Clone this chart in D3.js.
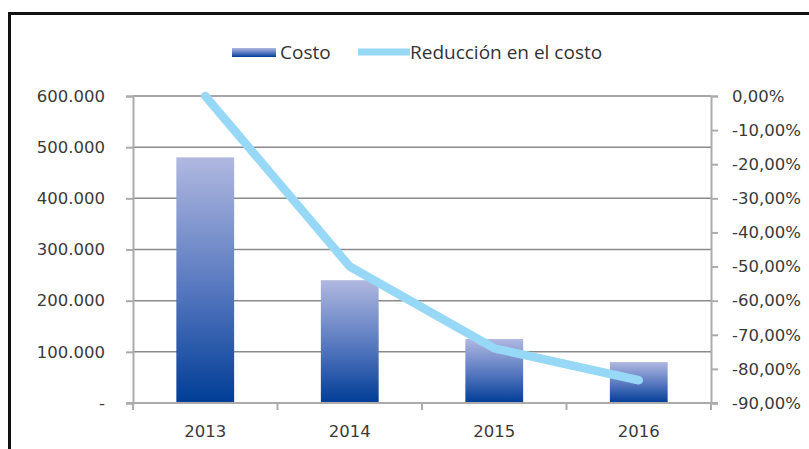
<!DOCTYPE html>
<html lang="es">
<head>
    <meta charset="UTF-8">
    <title>Costo y reducción en el costo</title>
    <script src="https://d3js.org/d3.v7.min.js"></script>
    <style>
        body { margin: 0; background: #fff; }
        .tick text { font-family: "DejaVu Sans", Verdana, sans-serif; font-size: 16.5px; fill: #3a3a3a; }
        .legend text { font-family: "Open Sans", sans-serif; font-size: 19px; fill: #333; }
    </style>
</head>
<body>

<div id="chart"></div>

<script>
    // Data
    const years = ["2013", "2014", "2015", "2016"];
    const costo = [480000, 240000, 125000, 80000];
    const reduccion = [0, -0.50, -0.7396, -0.8333];
    const leftTicks = [0, 100000, 200000, 300000, 400000, 500000, 600000];
    const rightTicks = [0, -0.1, -0.2, -0.3, -0.4, -0.5, -0.6, -0.7, -0.8, -0.9];

    const width = 809, height = 449;
    const plot = { left: 133, right: 711, top: 96, bottom: 403 };

    const svg = d3.select("#chart").append("svg")
        .attr("width", width)
        .attr("height", height);

    // outer frame (cut off at right and bottom)
    svg.append("rect")
        .attr("x", 9.5).attr("y", 13.5)
        .attr("width", 840).attr("height", 480)
        .attr("fill", "#fff")
        .attr("stroke", "#111")
        .attr("stroke-width", 3);

    const grad = svg.append("defs").append("linearGradient")
        .attr("id", "barGrad")
        .attr("x1", 0).attr("y1", 0).attr("x2", 0).attr("y2", 1);
    grad.append("stop").attr("offset", "0%").attr("stop-color", "#b0b8e0");
    grad.append("stop").attr("offset", "55%").attr("stop-color", "#5476be");
    grad.append("stop").attr("offset", "100%").attr("stop-color", "#003d96");

    const x = d3.scaleBand()
        .domain(years)
        .range([plot.left, plot.right])
        .paddingInner(0.6)
        .paddingOuter(0.3);

    const yLeft = d3.scaleLinear()
        .domain([0, 600000])
        .range([plot.bottom, plot.top]);

    const yRight = d3.scaleLinear()
        .domain([-0.9, 0])
        .range([plot.bottom, plot.top]);

    // gridlines
    svg.append("g")
        .selectAll("line")
        .data(leftTicks.filter(d => d > 0))
        .join("line")
        .attr("x1", plot.left).attr("x2", plot.right)
        .attr("y1", d => yLeft(d)).attr("y2", d => yLeft(d))
        .attr("stroke", "#8a8a8a")
        .attr("stroke-width", 1.5);

    // bars
    svg.append("g")
        .selectAll("rect")
        .data(years)
        .join("rect")
        .attr("x", d => x(d))
        .attr("width", x.bandwidth())
        .attr("y", (d, i) => yLeft(costo[i]))
        .attr("height", (d, i) => yLeft(0) - yLeft(costo[i]))
        .attr("fill", "url(#barGrad)");

    const fmtLeft = d => d === 0 ? "-" : d3.format(",")(d).replace(/,/g, ".");
    const fmtRight = d => (d * 100).toFixed(2).replace(".", ",").replace("-0,00", "0,00") + "%";

    function styleAxis(g) {
        g.select(".domain").attr("stroke", "#ababab").attr("stroke-width", 2);
        g.selectAll(".tick line").attr("stroke", "#ababab").attr("stroke-width", 2);
    }

    svg.append("g")
        .attr("transform", `translate(${plot.left},0)`)
        .call(d3.axisLeft(yLeft).tickValues(leftTicks).tickFormat(fmtLeft)
            .tickSize(7).tickSizeOuter(7).tickPadding(21))
        .call(styleAxis);

    svg.append("g")
        .attr("transform", `translate(${plot.right},0)`)
        .call(d3.axisRight(yRight).tickValues(rightTicks).tickFormat(fmtRight)
            .tickSize(7).tickSizeOuter(7).tickPadding(14))
        .call(styleAxis);

    // x axis: ticks at category boundaries
    const xAxis = svg.append("g")
        .attr("transform", `translate(0,${plot.bottom})`);
    xAxis.append("line")
        .attr("x1", plot.left - 7).attr("x2", plot.right + 7)
        .attr("stroke", "#ababab").attr("stroke-width", 2);
    const bounds = years.map(d => x(d) - x.step() * x.paddingOuter()).concat([plot.right]);
    xAxis.selectAll(".bt")
        .data(bounds)
        .join("line")
        .attr("class", "bt")
        .attr("x1", d => d).attr("x2", d => d)
        .attr("y1", 0).attr("y2", 7)
        .attr("stroke", "#ababab").attr("stroke-width", 2);
    xAxis.selectAll(".tick")
        .data(years)
        .join("g")
        .attr("class", "tick")
        .attr("transform", d => `translate(${x(d) + x.bandwidth() / 2},0)`)
        .append("text")
        .attr("y", 34)
        .attr("text-anchor", "middle")
        .text(d => d);

    // line series
    const line = d3.line()
        .x((d, i) => x(years[i]) + x.bandwidth() / 2)
        .y(d => yRight(d));

    svg.append("path")
        .datum(reduccion)
        .attr("d", line)
        .attr("fill", "none")
        .attr("stroke", "#97d8f6")
        .attr("stroke-width", 8.5)
        .attr("stroke-linejoin", "round")
        .attr("stroke-linecap", "round");

    // legend
    const legend = svg.append("g").attr("class", "legend");
    legend.append("rect")
        .attr("x", 232).attr("y", 48)
        .attr("width", 44).attr("height", 9)
        .attr("fill", "url(#barGrad)");
    legend.append("text")
        .attr("x", 280).attr("y", 59)
        .text("Costo");
    legend.append("line")
        .attr("x1", 358).attr("x2", 410)
        .attr("y1", 52).attr("y2", 52)
        .attr("stroke", "#97d8f6")
        .attr("stroke-width", 7);
    legend.append("text")
        .attr("x", 410).attr("y", 59)
        .text("Reducción en el costo");
</script>

</body>
</html>
